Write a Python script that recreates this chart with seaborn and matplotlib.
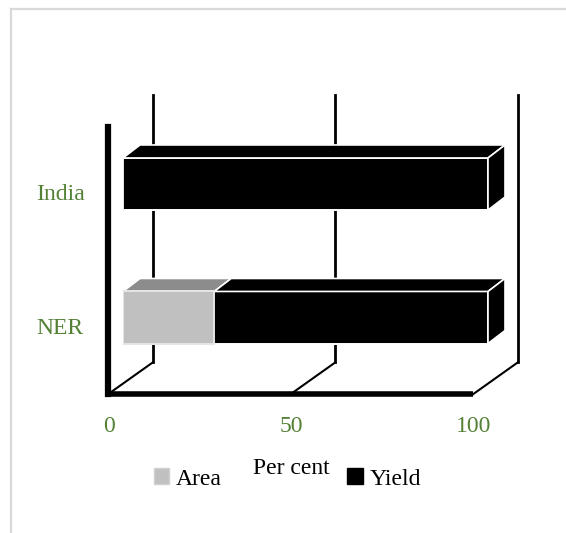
import numpy as np
import pandas as pd
import matplotlib
matplotlib.use("Agg")
import matplotlib.pyplot as plt
import seaborn as sns
from matplotlib.patches import Polygon, Patch
from matplotlib.lines import Line2D

# ---- data ----
regions = ["India", "NER"]
area = [0, 25]
yield_share = [100, 75]
xtick_values = [0, 50, 100]
xtick_labels = ["0", "50", "100"]
series_names = ["Area", "Yield"]
xlabel = "Per cent"

# ---- style ----
AREA_FRONT = "#c0c0c0"
AREA_TOP = "#8c8c8c"
YIELD_C = "#000000"
GREEN = "#538135"
FS = 17
plt.rcParams["font.family"] = ["Liberation Serif", "DejaVu Serif"]

W, H = 566, 533
fig = plt.figure(figsize=(W / 100, H / 100), dpi=100)

# border of the chart area
fig.add_artist(Line2D([11 / W, 11 / W], [0, 1 - 9 / H], color="#d9d9d9", lw=1.6,
                      transform=fig.transFigure))
fig.add_artist(Line2D([11 / W, 1], [1 - 9 / H, 1 - 9 / H], color="#d9d9d9", lw=1.6,
                      transform=fig.transFigure))

# axes for the front plane of the bars
ax_left, ax_right, ax_top, ax_bot = 123, 488, 95, 395
ax = fig.add_axes([ax_left / W, 1 - ax_bot / H, (ax_right - ax_left) / W, (ax_bot - ax_top) / H])

df = pd.DataFrame({"Region": regions, "Area": area, "Yield": yield_share})
df["Total"] = df["Area"] + df["Yield"]

BAR_W = 0.39
sns.barplot(data=df, y="Region", x="Total", orient="h", color=YIELD_C, saturation=1,
            width=BAR_W, edgecolor="white", linewidth=1.4, ax=ax, zorder=3)
sns.barplot(data=df, y="Region", x="Area", orient="h", color=AREA_FRONT, saturation=1,
            width=BAR_W, edgecolor="#e6e6e6", linewidth=1.4, ax=ax, zorder=4)

PX_PER_CAT = 133.5
ax.set_xlim(0, 100)
ax.set_ylim((ax_bot - 184) / PX_PER_CAT, -(184 - ax_top) / PX_PER_CAT)
ax.axis("off")

T = ax.transData
Ti = T.inverted()


def off(x, y, dx, dy):
    p = T.transform((x, y)) + np.array([dx, dy])
    return Ti.transform(p)


# depth offsets (display pixels; y up)
FRONT = (-15, -10)
BACK = (30, 22)
BAR_D = (17, 13)

n = len(regions)
top_y = -0.5
floor_y = n - 0.5

# back wall gridlines
for v in xtick_values:
    a = off(v, top_y, *BACK)
    b = off(v, floor_y, *BACK)
    ax.plot([a[0], b[0]], [a[1], b[1]], color="black", lw=2.0, zorder=1, clip_on=False)
    c = off(v, floor_y, *FRONT)
    ax.plot([c[0], b[0]], [c[1], b[1]], color="black", lw=1.5, zorder=1, clip_on=False)

# floor front edge and left wall edge
a = off(0, floor_y, *FRONT)
b = off(100, floor_y, *FRONT)
ax.plot([a[0], b[0]], [a[1], b[1]], color="black", lw=4.0, zorder=2, clip_on=False,
        solid_capstyle="butt")
c = off(0, top_y, *FRONT)
ax.plot([c[0], a[0]], [c[1], a[1]], color="black", lw=4.5, zorder=2, clip_on=False,
        solid_capstyle="projecting")

# 3D top and side faces of bars
total_patches = ax.containers[0].patches
area_patches = ax.containers[1].patches
for i in range(n):
    tp = total_patches[i]
    ap = area_patches[i]
    y_top = tp.get_y()                 # visual top (axis inverted)
    y_bot = tp.get_y() + tp.get_height()
    x_area_end = ap.get_x() + ap.get_width()
    x_end = tp.get_x() + tp.get_width()
    segs = [(tp.get_x(), x_area_end, AREA_TOP), (x_area_end, x_end, YIELD_C)]
    for x0, x1, col in segs:
        if x1 - x0 <= 0:
            continue
        verts = [T.transform((x0, y_top)), T.transform((x1, y_top)),
                 T.transform((x1, y_top)) + BAR_D, T.transform((x0, y_top)) + BAR_D]
        ax.add_patch(Polygon(Ti.transform(np.array(verts)), closed=True, facecolor=col,
                             edgecolor="white", lw=1.2, zorder=3, clip_on=False))
    side = [T.transform((x_end, y_top)), T.transform((x_end, y_top)) + BAR_D,
            T.transform((x_end, y_bot)) + BAR_D, T.transform((x_end, y_bot))]
    ax.add_patch(Polygon(Ti.transform(np.array(side)), closed=True, facecolor=YIELD_C,
                         edgecolor="white", lw=1.2, zorder=3, clip_on=False))

# category labels
for i, name in enumerate(regions):
    py = T.transform((0, i))[1] - 16
    fig.text(60 / W, py / H, name, ha="center", va="baseline", color=GREEN, fontsize=FS)

# value tick labels
for v, lab in zip(xtick_values, xtick_labels):
    px = T.transform((v, 0))[0] - 14
    fig.text(px / W, 1 - 431.5 / H, lab, ha="center", va="baseline", color=GREEN, fontsize=FS)

# axis title
fig.text(291 / W, 1 - 474 / H, xlabel, ha="center", va="baseline", color="black", fontsize=FS)

# legend
handles = [Patch(facecolor=AREA_FRONT, edgecolor="#d0d0d0"), Patch(facecolor=YIELD_C, edgecolor=YIELD_C)]
fig.legend(handles, series_names, ncol=2, frameon=False, loc="center",
           bbox_to_anchor=(287.5 / W, 1 - 479 / H), bbox_transform=fig.transFigure,
           handlelength=0.65, handleheight=0.65, handletextpad=0.3, columnspacing=5.3,
           fontsize=FS, borderaxespad=0, borderpad=0)

fig.savefig("out.png", dpi=100, facecolor="white")
